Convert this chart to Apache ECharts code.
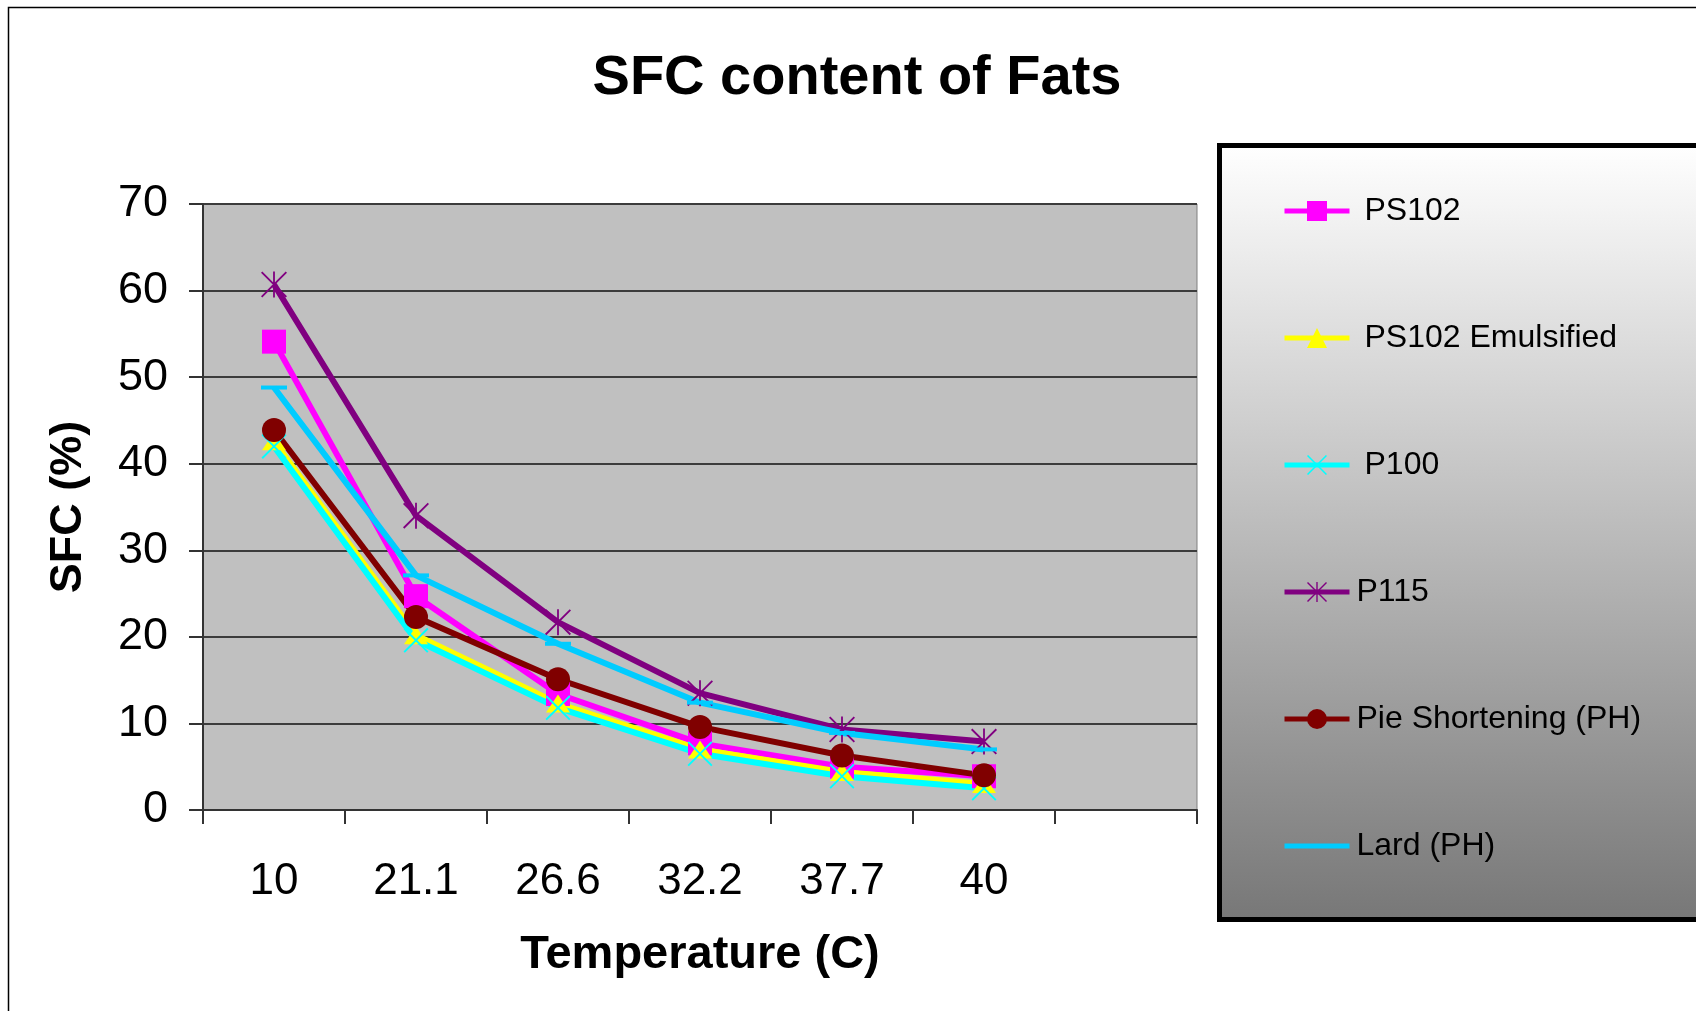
<!DOCTYPE html>
<html>
<head>
<meta charset="utf-8">
<title>SFC content of Fats</title>
<script src="https://cdn.jsdelivr.net/npm/echarts@6/dist/echarts.min.js"></script>
<style>
  html, body { margin: 0; padding: 0; background: #ffffff; }
  #chart { width: 1696px; height: 1011px; }
</style>
</head>
<body>
<div id="chart"></div>
<script>
// Temperatures (C); the trailing blank slot leaves an empty column at the right
const temperatures = ['10', '21.1', '26.6', '32.2', '37.7', '40', ''];

// Solid fat content (%) per fat
const ps102 = [54.1, 24.7, 13.4, 7.7, 5.0, 3.9];
const ps102Emulsified = [42.6, 20.2, 12.3, 7.0, 4.4, 3.0];
const p100 = [42.0, 19.6, 11.8, 6.5, 3.9, 2.5];
const p115 = [60.7, 34.0, 21.7, 13.5, 9.3, 7.9];
const pieShortening = [43.9, 22.3, 15.1, 9.6, 6.3, 4.0];
const lard = [48.8, 27.1, 19.2, 12.4, 8.9, 7.0];

const seriesNames = ['PS102', 'PS102 Emulsified', 'P100', 'P115', 'Pie Shortening (PH)', 'Lard (PH)'];

const FONT = "'Liberation Sans', Arial, sans-serif";

// Marker shapes drawn as filled paths
const crossPath = 'path://M0,1.4L1.4,0L26,24.6L24.6,26Z M24.6,0L26,1.4L1.4,26L0,24.6Z';
const asteriskPath = 'path://M12.1,0L13.9,0L13.9,26L12.1,26Z M0,1.3L1.3,0L26,24.7L24.7,26Z M24.7,0L26,1.3L1.3,26L0,24.7Z';

function lineSeries(name, data, color, symbol, symbolSize) {
  return {
    name: name,
    type: 'line',
    data: data,
    symbol: symbol,
    symbolSize: symbolSize,
    showAllSymbol: true,
    lineStyle: { color: color, width: 6 },
    itemStyle: { color: color },
    emphasis: { disabled: true },
    animation: false
  };
}

const chart = echarts.init(document.getElementById('chart'), null, { renderer: 'canvas' });

chart.setOption({
  backgroundColor: '#ffffff',
  animation: false,
  title: {
    text: 'SFC content of Fats',
    left: 852,
    top: 46,
    textAlign: 'center',
    textStyle: { fontFamily: FONT, fontWeight: 'bold', fontSize: 56, color: '#000000' }
  },
  graphic: [
    {
      // outer chart frame
      type: 'rect',
      z: 0,
      shape: { x: 8.5, y: 7.5, width: 1800, height: 1100 },
      style: { fill: null, stroke: '#000000', lineWidth: 1.5 }
    },
    {
      // legend panel with grey gradient
      type: 'rect',
      z: 0,
      shape: { x: 1219.5, y: 145.5, width: 520, height: 774 },
      style: {
        fill: {
          type: 'linear', x: 0, y: 0, x2: 0, y2: 1,
          colorStops: [
            { offset: 0, color: '#ffffff' },
            { offset: 1, color: '#777777' }
          ]
        },
        stroke: '#000000',
        lineWidth: 5
      }
    }
  ],
  legend: {
    orient: 'vertical',
    left: 1277,
    top: 188,
    itemWidth: 65,
    itemHeight: 25,
    itemGap: 91,
    selectedMode: false,
    lineStyle: { width: 5 },
    textStyle: { fontFamily: FONT, fontSize: 32, color: '#000000', lineHeight: 36 },
    data: [
      { name: 'PS102', textStyle: { padding: [0, 0, 0, 10] } },
      { name: 'PS102 Emulsified', textStyle: { padding: [0, 0, 0, 10] } },
      { name: 'P100', textStyle: { padding: [0, 0, 0, 10] } },
      { name: 'P115', textStyle: { padding: [0, 0, 0, 2] } },
      { name: 'Pie Shortening (PH)', textStyle: { padding: [0, 0, 0, 2] } },
      { name: 'Lard (PH)', itemStyle: { opacity: 0 }, textStyle: { padding: [0, 0, 0, 2] } }
    ]
  },
  grid: {
    left: 203,
    right: 499,
    top: 204,
    bottom: 201,
    show: true,
    backgroundColor: '#c0c0c0',
    borderColor: '#808080',
    borderWidth: 1,
    containLabel: false
  },
  xAxis: {
    type: 'category',
    data: temperatures,
    boundaryGap: true,
    name: 'Temperature (C)',
    nameLocation: 'middle',
    nameGap: 122,
    nameTextStyle: { fontFamily: FONT, fontWeight: 'bold', fontSize: 47, color: '#000000' },
    axisLine: { show: true, lineStyle: { color: '#333333', width: 2 } },
    axisTick: { show: true, length: 14, inside: false, lineStyle: { color: '#333333', width: 2 } },
    axisLabel: { fontFamily: FONT, fontSize: 44, color: '#000000', margin: 50, interval: 0 },
    splitLine: { show: false }
  },
  yAxis: {
    type: 'value',
    min: 0,
    max: 70,
    interval: 10,
    name: 'SFC (%)',
    nameLocation: 'middle',
    nameGap: 112,
    nameRotate: 90,
    nameTextStyle: { fontFamily: FONT, fontWeight: 'bold', fontSize: 45, color: '#000000' },
    axisLine: { show: true, lineStyle: { color: '#333333', width: 2 } },
    axisTick: { show: true, length: 14, inside: false, lineStyle: { color: '#333333', width: 2 } },
    axisLabel: { fontFamily: FONT, fontSize: 45, color: '#000000', margin: 35 },
    splitLine: { show: true, lineStyle: { color: '#3c3c3c', width: 2 } }
  },
  series: [
    lineSeries(seriesNames[0], ps102, '#ff00ff', 'rect', 24),
    lineSeries(seriesNames[1], ps102Emulsified, '#ffff00', 'triangle', [24, 18]),
    lineSeries(seriesNames[2], p100, '#00ffff', crossPath, 25),
    lineSeries(seriesNames[3], p115, '#800080', asteriskPath, 26),
    lineSeries(seriesNames[4], pieShortening, '#800000', 'circle', 24),
    lineSeries(seriesNames[5], lard, '#00ccff', 'rect', [26, 4])
  ]
});
</script>
</body>
</html>
